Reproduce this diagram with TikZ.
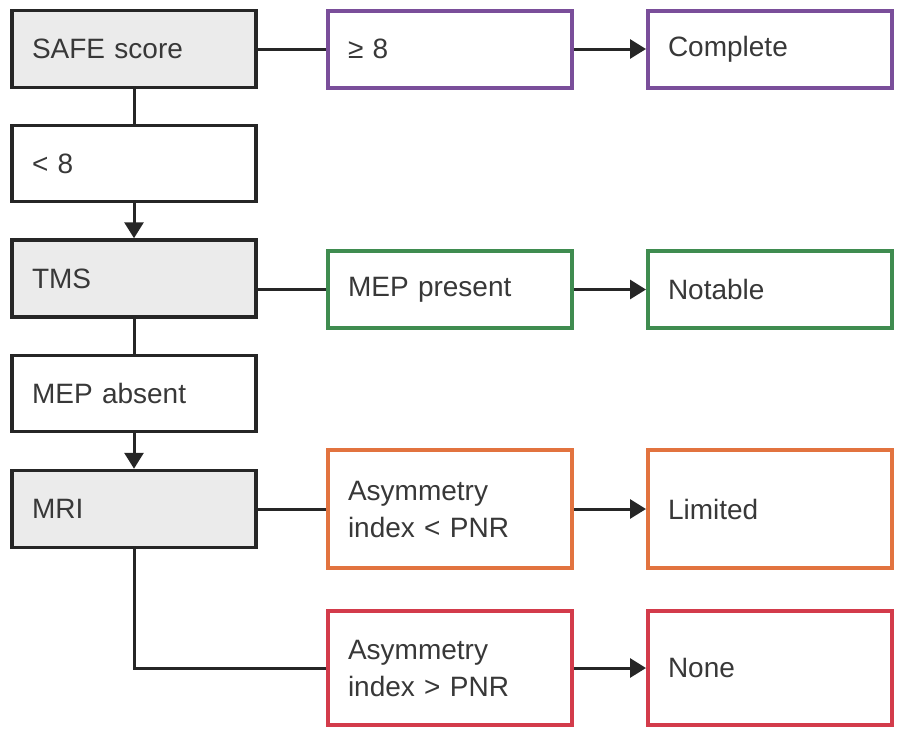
\documentclass[tikz,border=0pt]{standalone}
\usepackage{fontspec}
\setmainfont{Liberation Sans}
\usetikzlibrary{arrows.meta}

\definecolor{stagefill}{HTML}{EBEBEB}
\definecolor{txtgray}{HTML}{383838}
\definecolor{safepurple}{HTML}{7A4E9A}
\definecolor{tmsgreen}{HTML}{3F8C50}
\definecolor{mriorange}{HTML}{E2733F}
\definecolor{mrired}{HTML}{D33B4B}

\tikzset{
  box/.style={rectangle, draw=black!85, line width=3.5pt, fill=white,
    minimum width=244pt, text width=204pt, inner xsep=20pt, align=left,
    text=txtgray, font=\fontsize{28}{37}\selectfont},
  stage/.style={box, fill=stagefill, minimum height=77pt},
  cut/.style={box, minimum height=76pt},
  outcome/.style={box, line width=4pt, draw=#1},
  link/.style={draw=black!85, line width=3pt},
  arr/.style={link, -{Triangle[length=16pt,width=19pt]}}
}

\begin{document}
\begin{tikzpicture}[x=1pt,y=-1pt]
\useasboundingbox (0,0) rectangle (915,734);

% left column
\node[stage] (safe) at (134,49) {SAFE score};
\node[cut] (lt8) at (134,163.5) {< 8};
\node[stage] (tms) at (134,278.5) {TMS};
\node[cut] (mepabs) at (134,393.5) {MEP absent};
\node[stage] (mri) at (134,509) {MRI};

% middle column
\node[outcome=safepurple, minimum height=77pt] (ge8) at (450,49) {≥ 8};
\node[outcome=tmsgreen, minimum height=77pt] (meppres) at (450,289.5) {MEP present};
\node[outcome=mriorange, minimum height=118pt] (asyml) at (450,509) {Asymmetry\\index < PNR};
\node[outcome=mrired, minimum height=114pt] (asymg) at (450,668) {Asymmetry\\index > PNR};

% right column
\node[outcome=safepurple, minimum height=77pt] (complete) at (770,49) {Complete};
\node[outcome=tmsgreen, minimum height=77pt] (notable) at (770,289.5) {Notable};
\node[outcome=mriorange, minimum height=118pt] (limited) at (770,509) {Limited};
\node[outcome=mrired, minimum height=114pt] (none) at (770,668) {None};

% connectors
\draw[link] (safe) -- (ge8);
\draw[arr] (ge8) -- (complete);
\draw[link] (safe) -- (lt8);
\draw[arr] (lt8) -- (tms);
\draw[link] (tms.east |- meppres.west) -- (meppres.west);
\draw[arr] (meppres) -- (notable);
\draw[link] (tms) -- (mepabs);
\draw[arr] (mepabs) -- (mri);
\draw[link] (mri) -- (asyml);
\draw[arr] (asyml) -- (limited);
\draw[link] (mri.south) |- (asymg.west);
\draw[arr] (asymg) -- (none);
\end{tikzpicture}
\end{document}
